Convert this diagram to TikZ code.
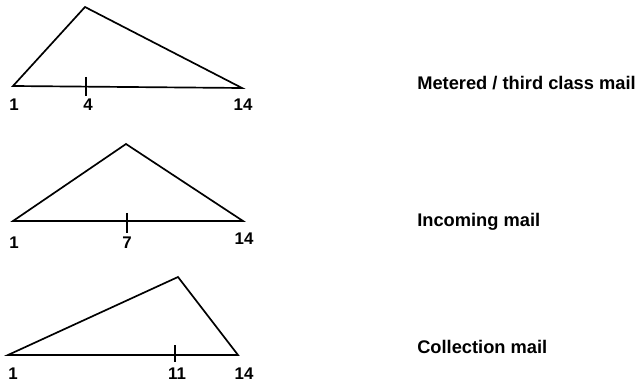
\documentclass[tikz,border=0pt]{standalone}
\usepackage{fontspec}
\setmainfont{Liberation Sans}
\usetikzlibrary{positioning}

\begin{document}
\begin{tikzpicture}[
  x=0.025cm,y=-0.025cm,
  side/.style={black,line width=1.2pt,line join=miter},
  tick/.style={black,line width=1.2pt},
  num/.style={font=\fontsize{12}{14}\selectfont\bfseries,inner sep=0pt},
  caption/.style={font=\fontsize{13}{16}\selectfont\bfseries,anchor=west,inner sep=0pt}
]
\useasboundingbox (0,0) rectangle (644,386);
% metered / third class mail
\begin{scope}
  \coordinate (a1) at (13,86);
  \coordinate (p1) at (85,7);
  \coordinate (b1) at (242,88);
  \draw[side] (a1) -- (p1) -- (b1) -- cycle;
  \draw[tick] (86,77) -- (86,96);
  \node[num] (n1a) at (14,105) {1};
  \node[num] (n1k) at (88,105) {4};
  \node[num] (n1b) at (243,105) {14};
  \node[caption] (c1) at (417,83) {Metered / third class mail};
\end{scope}
% incoming mail
\begin{scope}
  \coordinate (a2) at (13,221);
  \coordinate (p2) at (126,144);
  \coordinate (b2) at (243,221);
  \draw[side] (a2) -- (p2) -- (b2) -- cycle;
  \draw[tick] (127,213) -- (127,233);
  \node[num] (n2a) at (14,243) {1};
  \node[num] (n2k) at (127,243) {7};
  \node[num] (n2b) at (244,239) {14};
  \node[caption] (c2) at (417,222) {Incoming mail};
\end{scope}
% collection mail
\begin{scope}
  \coordinate (a3) at (8,355);
  \coordinate (p3) at (178,277);
  \coordinate (b3) at (238,355);
  \draw[side] (a3) -- (p3) -- (b3) -- cycle;
  \draw[tick] (175,345) -- (175,362);
  \node[num] (n3a) at (13,374) {1};
  \node[num] (n3k) at (177,374) {11};
  \node[num] (n3b) at (244,374) {14};
  \node[caption] (c3) at (417,347) {Collection mail};
\end{scope}
\end{tikzpicture}
\end{document}
